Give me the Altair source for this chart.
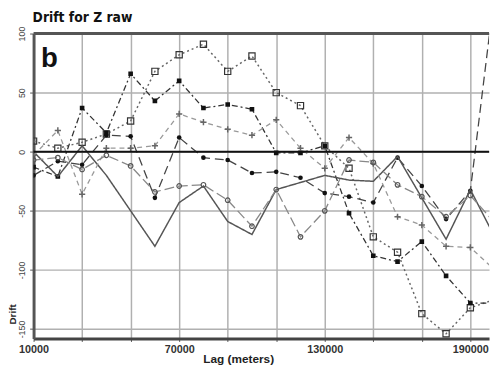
import altair as alt
import pandas as pd

lags = [10000, 20000, 30000, 40000, 50000, 60000, 70000, 80000, 90000, 100000,
        110000, 120000, 130000, 140000, 150000, 160000, 170000, 180000, 190000, 200000]
sq_open = [9, 3, 8, 15, 26, 68, 82, 91, 68, 81, 50, 39, 5, -14, -72, -85, -137, -154, -132, -125]
sq_filled = [-13, -21, 37, 16, 66, 43, 60, 37, 40, 36, -1, -1, 5, -52, -88, -93, -76, -105, -128, -128]
circ_filled = [-20, -8, -11, 14, 13, -39, 12, -5, -7, -18, -17, -22, -35, -38, -43, -5, -29, -57, -33, 135]
solid = [0, -21, 5, -20, -50, -80, -43, -29, -59, -70, -32, -26, -20, -24, -25, -4, -39, -74, -32, -72]
plus = [-3, 18, -36, 3, 3, 5, 32, 25, 19, 14, 27, 3, -14, 12, -10, -55, -62, -80, -81, -100]
circ_open = [-7, -5, -15, -3, -12, -34, -29, -28, -41, -63, -32, -72, -50, -7, -9, -28, -38, -55, -37, -60]

x_grid = [10000, 20000, 30000, 40000, 50000, 60000, 70000, 80000, 90000, 100000,
          110000, 120000, 130000, 140000, 150000, 160000, 170000, 180000, 190000]
y_grid = [-150, -125, -100, -75, -50, -25, 0, 25, 50, 75, 100]

FONT = "Liberation Sans"
xs = alt.Scale(domain=[10000, 197700], nice=False, zero=False)
ys = alt.Scale(domain=[-158, 100], nice=False, zero=False)

X = alt.X("lag:Q", scale=xs, axis=alt.Axis(
    values=x_grid, labelExpr="(datum.value - 10000) % 30000 == 0 ? datum.value : ''",
    title="Lag (meters)", titleX=208, titleY=20, titleAnchor="start",
    titleAlign="center", titleBaseline="middle", titleFont=FONT, titleFontSize=12,
    titleFontWeight="bold", titleColor="#222", labelFont=FONT, labelFontSize=11,
    labelColor="#333", labelFontWeight="bold", labelPadding=2, tickSize=3, tickColor="#555",
    gridColor="#b0b0b0", gridWidth=1.5, domainColor="#444", domainWidth=3,
    labelOverlap=False, labelFlush=False))
Y = alt.Y("drift:Q", scale=ys, axis=alt.Axis(
    values=y_grid, labelExpr="datum.value % 50 == 0 ? datum.value : ''",
    title="Drift", titleX=-26, titleY=285, titleAngle=270, titleAlign="center",
    titleBaseline="top", titleFont=FONT, titleFontSize=10, titleFontWeight="bold",
    titleColor="#222", labelFont=FONT, labelFontSize=9, labelColor="#444",
    labelAngle=270, labelAlign="center", labelBaseline="bottom", labelPadding=3,
    tickSize=4, tickColor="#555", gridColor="#b0b0b0", gridWidth=1.5,
    domainColor="#555", domainWidth=3, labelOverlap=False))

PLUS = "M-1,0L1,0M0,-1L0,1"
series = [
    ("sq_open", sq_open, "#666", [2, 3], 1.5, dict(shape="square", filled=False, size=40, color="#333", strokeWidth=1.2)),
    ("sq_filled", sq_filled, "#333", [6, 3, 2, 3], 1.3, dict(shape="square", filled=True, size=22, color="#111")),
    ("circ_filled", circ_filled, "#444", [9, 5], 1.3, dict(shape="circle", filled=True, size=22, color="#111")),
    ("solid", solid, "#555", [1, 0], 1.5, None),
    ("plus", plus, "#999", [5, 4], 1.3, dict(shape=PLUS, filled=False, size=40, color="#666", strokeWidth=1.5)),
    ("circ_open", circ_open, "#888", [10, 4], 1.3, dict(shape="circle", filled=False, size=22, color="#555", strokeWidth=1.2)),
]

layers = []
base_grid = alt.Chart(pd.DataFrame({"lag": [10000], "drift": [0]})).mark_point(opacity=0).encode(x=X, y=Y)
layers.append(base_grid)

for name, vals, col, dash, w, pt in series:
    df = pd.DataFrame({"lag": lags, "drift": vals})
    layers.append(alt.Chart(df).mark_line(color=col, strokeDash=dash, strokeWidth=w, clip=True).encode(
        x=alt.X("lag:Q", scale=xs), y=alt.Y("drift:Q", scale=ys)))
    if pt is not None:
        layers.append(alt.Chart(df).mark_point(clip=True, opacity=1, **pt).encode(
            x=alt.X("lag:Q", scale=xs), y=alt.Y("drift:Q", scale=ys)))

zero = alt.Chart(pd.DataFrame({"drift": [0]})).mark_rule(color="#111", strokeWidth=2).encode(
    y=alt.Y("drift:Q", scale=ys))
top = alt.Chart(pd.DataFrame({"drift": [100]})).mark_rule(color="#555", strokeWidth=3).encode(
    y=alt.Y("drift:Q", scale=ys))
label_b = alt.Chart(pd.DataFrame({"lag": [16500], "drift": [78], "t": ["b"]})).mark_text(
    font=FONT, fontSize=28, fontWeight="bold", color="#111", baseline="middle", align="center").encode(
    x=alt.X("lag:Q", scale=xs), y=alt.Y("drift:Q", scale=ys), text="t:N")

chart = alt.layer(*layers, zero, top, label_b).properties(
    width=463, height=310,
    autosize="none",
    padding={"left": 26, "top": 23, "right": 2, "bottom": 25},
    title=alt.TitleParams("Drift for Z raw", anchor="start", frame="group",
                          font="Liberation Sans Narrow, DejaVu Sans Condensed, Liberation Sans",
                          fontSize=14, fontWeight="bold", color="#111", offset=9, dx=-1, dy=8),
).configure_view(stroke=None)

chart.save("out.html", embed_options={"renderer": "svg", "actions": False})
